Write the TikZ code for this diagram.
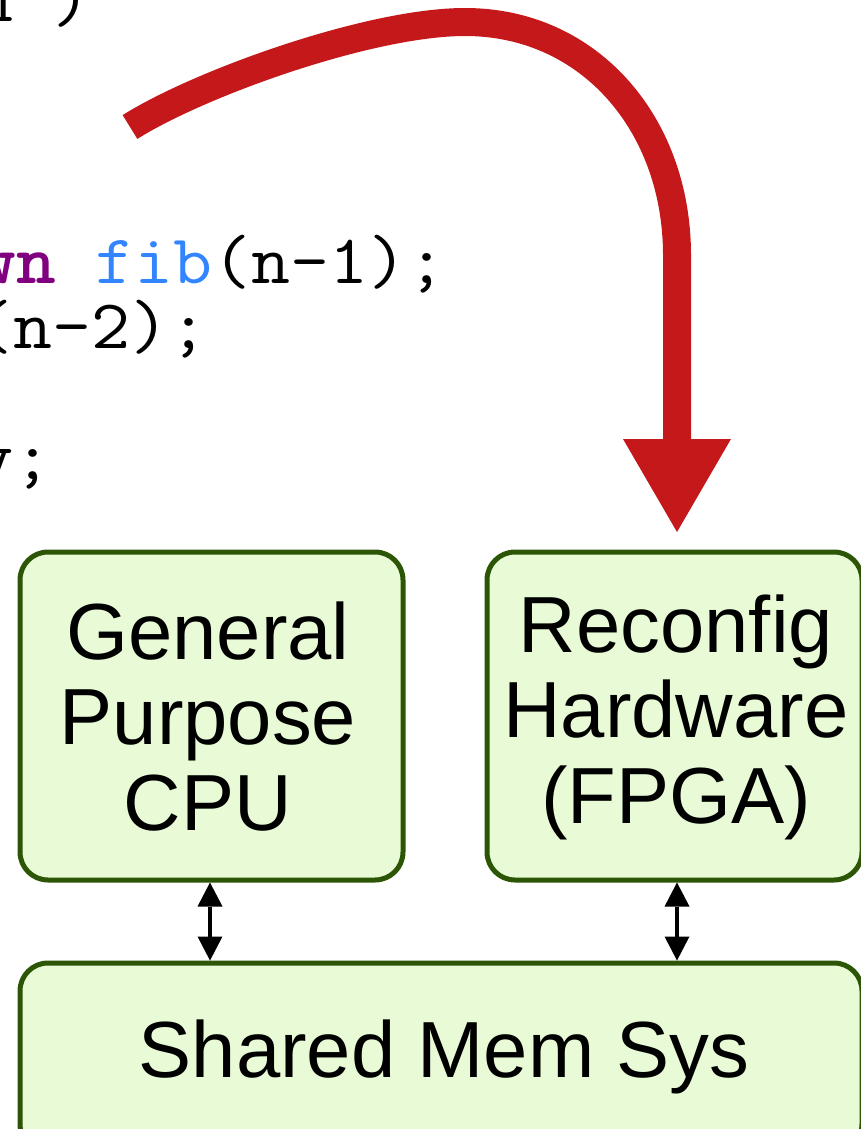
\documentclass[tikz,border=0pt]{standalone}
\usepackage{fontspec}
\setmainfont{Liberation Sans}
\usetikzlibrary{arrows.meta}
\definecolor{boxfill}{RGB}{233,251,214}
\definecolor{boxline}{RGB}{44,86,6}
\definecolor{hotred}{RGB}{196,24,27}
\definecolor{kwpurple}{RGB}{128,0,128}
\definecolor{fnblue}{RGB}{51,133,255}
\tikzset{
  unitbox/.style={draw=boxline, line width=5pt, fill=boxfill,
    rounded corners=28pt, inner sep=0pt},
  boxlabel/.style={font=\fontsize{79.6}{85.5}\selectfont, anchor=base, inner sep=0pt},
  codeline/.style={font=\ttfamily\frenchspacing\fontsize{75.7}{75.7}\selectfont,
    anchor=base west, inner sep=0pt, yscale=0.92, transform shape},
  bus/.style={line width=4.5pt,
    {Triangle[length=24pt,width=25pt,line width=0pt]}-{Triangle[length=24pt,width=25pt,line width=0pt]}},
  offload/.style={draw=hotred, line width=28pt,
    -{Triangle[length=93pt,width=108pt,line width=0pt]}},
}
\begin{document}
\begin{tikzpicture}[x=1pt,y=-1pt]
  \useasboundingbox (0,0) rectangle (861,1129);
  \clip (0,0) rectangle (861,1129);

  % source listing (left part runs off the page)
  \node[codeline] (code1) at (-376.6,21.3) {int~fib(~n~)};
  \node[codeline] (code5) at (-376.6,283.3)
    {~~x~=~{\bfseries\color{kwpurple}spawn}~{\color{fnblue}fib}(n-1);};
  \node[codeline] (code6) at (-376.6,348.8)
    {~~y~=~{\color{fnblue}fib}(n-2);};
  \node[codeline] (code8) at (-376.6,479.8) {return~x+y;};

  % processing units and memory
  \node[unitbox, minimum width=383pt, minimum height=328pt] (cpu) at (211.5,716) {};
  \node[unitbox, minimum width=375pt, minimum height=328pt] (fpga) at (674.5,716) {};
  \node[unitbox, minimum width=842pt, minimum height=189pt] (mem) at (441,1057.5) {};

  \node[boxlabel] (cputext) at (208,830)
    {\begin{tabular}[b]{@{}c@{}}General\\Purpose\\CPU\end{tabular}};
  \node[boxlabel] (fpgatext) at (676,823)
    {\begin{tabular}[b]{@{}c@{}}Reconfig\\Hardware\\(FPGA)\end{tabular}};
  \node[boxlabel] (memtext) at (444,1077) {Shared Mem Sys};

  % memory links
  \draw[bus] ([xshift=-1.5pt]cpu.south) -- ([xshift=-1.5pt]cpu.south |- mem.north);
  \draw[bus] ([xshift=2.5pt]fpga.south) -- ([xshift=2.5pt]fpga.south |- mem.north);

  % offload of the spawned call onto the reconfigurable fabric
  \coordinate (src) at (130,127);
  \coordinate (drop) at (677,532);
  \draw[offload] (src) .. controls (200,83) and (370,22) .. (465,22)
    .. controls (590,22) and (677,125) .. (677,255) -- (drop);
\end{tikzpicture}
\end{document}
